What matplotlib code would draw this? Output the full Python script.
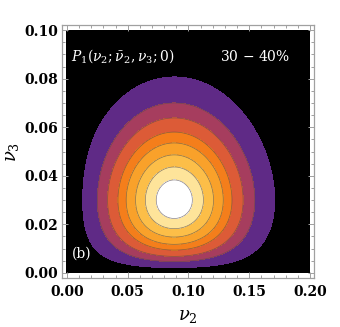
import numpy as np
import matplotlib
matplotlib.use("Agg")
import matplotlib.pyplot as plt
from matplotlib.ticker import MultipleLocator

# ---- data ----
v2_limits = [0.0, 0.2]
v3_limits = [0.0, 0.1]
v2_mean = 0.0795      # Bessel-Gaussian mean for v2
v2_width = 0.0412     # Bessel-Gaussian width for v2
v3_width = 0.030      # Rayleigh width for v3 (peak position)
levels = [0.0, 0.119, 0.253, 0.365, 0.492, 0.599, 0.719, 0.833, 0.932, 1.01]
band_colors = ["#000000", "#5f2a86", "#a63d5e", "#dc5b37", "#f47e1b",
               "#f9a12a", "#fcbe48", "#fee49a", "#ffffff"]
x_ticks = [0.00, 0.05, 0.10, 0.15, 0.20]
y_ticks = [0.00, 0.02, 0.04, 0.06, 0.08, 0.10]

# ---- joint distribution on a grid ----
v2 = np.linspace(v2_limits[0], v2_limits[1], 400)
v3 = np.linspace(v3_limits[0], v3_limits[1], 400)
V2, V3 = np.meshgrid(v2, v3)
p2 = V2 / v2_width**2 * np.exp(-(V2**2 + v2_mean**2) / (2 * v2_width**2)) * np.i0(V2 * v2_mean / v2_width**2)
p3 = V3 / v3_width**2 * np.exp(-V3**2 / (2 * v3_width**2))
P = p2 * p3
P = P / P.max()

plt.rcParams['mathtext.fontset'] = 'dejavuserif'
fig = plt.figure(figsize=(3.4, 3.27), dpi=100)
ax = fig.add_axes([62 / 340, 1 - 278 / 327, 252 / 340, 253 / 327])

ax.contourf(V2, V3, P, levels=levels, colors=band_colors, zorder=1)
ax.contour(V2, V3, P, levels=levels[2:-1], colors=[(0.35, 0.3, 0.3)], linewidths=0.5, alpha=0.7, zorder=2)

ax.set_xlim(-0.0041, 0.2033)
ax.set_ylim(-0.0021, 0.1021)

frame_col = "#a0a0a0"
for sp in ax.spines.values():
    sp.set_color(frame_col)
    sp.set_linewidth(0.9)

ax.set_xticks(x_ticks)
ax.set_yticks(y_ticks)
ax.xaxis.set_minor_locator(MultipleLocator(0.01))
ax.yaxis.set_minor_locator(MultipleLocator(0.005))
ax.tick_params(which='both', direction='in', top=True, right=True, color=frame_col, width=0.7)
ax.tick_params(which='major', length=4)
ax.tick_params(which='minor', length=2)
ax.set_xticklabels(["%.2f" % t for t in x_ticks], fontfamily='DejaVu Serif', fontweight='bold', fontsize=10)
ax.set_yticklabels(["%.2f" % t for t in y_ticks], fontfamily='DejaVu Serif', fontweight='bold', fontsize=10)
ax.tick_params(axis='x', pad=5)
ax.tick_params(axis='y', pad=3)

ax.set_xlabel(r"$\nu_2$", fontsize=13, labelpad=6)
ax.set_ylabel(r"$\nu_3$", fontsize=13, labelpad=2)

ax.text(0.035, 0.877, r"$P_1(\nu_2;\bar{\nu}_2,\nu_3;0)$", transform=ax.transAxes,
        color='white', fontsize=10, va='center', ha='left')
ax.text(0.905, 0.877, r"30 $-$ 40%", transform=ax.transAxes, color='white',
        fontsize=10, va='center', ha='right', fontfamily='DejaVu Serif')
ax.text(0.04, 0.095, "(b)", transform=ax.transAxes, color='white',
        fontsize=10, va='center', ha='left', fontfamily='DejaVu Serif')

fig.savefig("out.png", dpi=100)
